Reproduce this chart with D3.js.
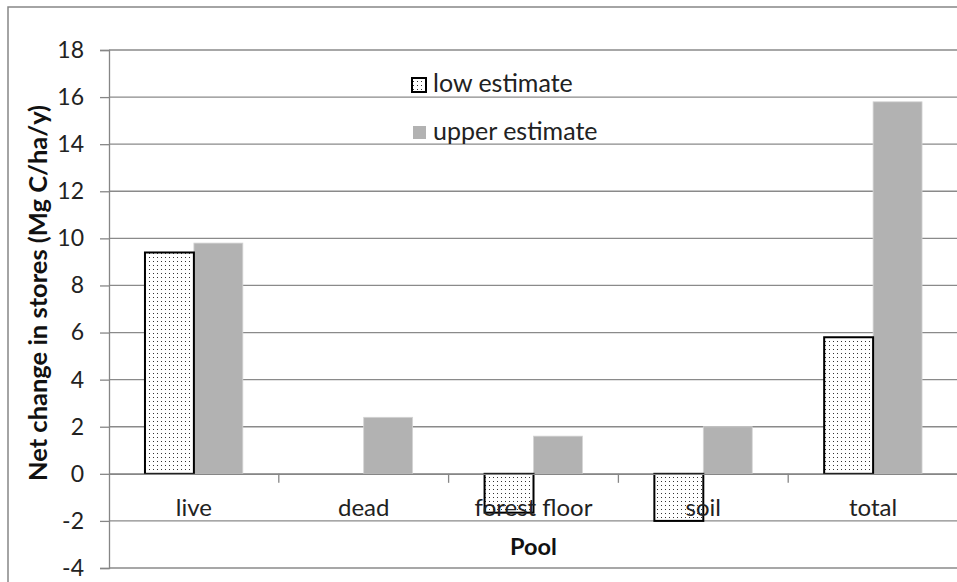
<!DOCTYPE html>
<html><head><meta charset="utf-8">
<script src="https://cdn.jsdelivr.net/npm/d3@7"></script>
<style>html,body{margin:0;padding:0;background:#fff;}svg{display:block;}</style>
</head><body>
<svg id="chart" width="957" height="582"></svg>
<script>
const categories = ["live", "dead", "forest floor", "soil", "total"];
const seriesNames = ["low estimate", "upper estimate"];
const lowEstimate = [9.4, 0, -1.65, -2.0, 5.8];
const upperEstimate = [9.8, 2.4, 1.6, 2.0, 15.8];
const yTicks = [-4, -2, 0, 2, 4, 6, 8, 10, 12, 14, 16, 18];
const yTitle = "Net change in stores (Mg C/ha/y)";
const xTitle = "Pool";

const FONT = "Lato, 'Open Sans', sans-serif";
const svg = d3.select("#chart");
const L = 109, R = 958, T = 50, B = 568;

const defs = svg.append("defs");
const pat = defs.append("pattern").attr("id","dots").attr("patternUnits","userSpaceOnUse")
  .attr("width",4).attr("height",4);
pat.append("rect").attr("width",4).attr("height",4).attr("fill","#fff");
pat.append("rect").attr("x",1).attr("y",1).attr("width",1).attr("height",1).attr("fill","#333");

// outer chart border
svg.append("rect").attr("x",8).attr("y",7).attr("width",980).attr("height",600)
  .attr("fill","none").attr("stroke","#878787").attr("stroke-width",1.5);

const y = d3.scaleLinear().domain([-4, 18]).range([B, T]);
const x = d3.scaleBand().domain(categories).range([L, R]).paddingInner(0).paddingOuter(0);
const xs = d3.scaleBand().domain(seriesNames).range([0, x.bandwidth()]).paddingInner(0).paddingOuter(0.735);

// gridlines
svg.append("g").selectAll("line").data(yTicks).join("line")
  .attr("x1",L).attr("x2",R).attr("y1",d=>y(d)).attr("y2",d=>y(d))
  .attr("stroke","#8a8a8a").attr("stroke-width",1.3);
// y axis
const yAxis = d3.axisLeft(y).tickValues(yTicks).tickSize(9).tickPadding(16).tickFormat(d=>String(d));
const gy = svg.append("g").attr("transform",`translate(${L},0)`).call(yAxis);
gy.select(".domain").attr("stroke","#868686").attr("stroke-width",1.3);
gy.selectAll(".tick line").attr("stroke","#868686").attr("stroke-width",1.3);
gy.selectAll(".tick text").attr("font-family",FONT).attr("font-size",23).attr("fill","#222");

// bars
const rows = categories.map((c,i)=>({c, vals:[lowEstimate[i], upperEstimate[i]]}));
const g = svg.append("g");
rows.forEach(r=>{
  const u = r.vals[1];
  g.append("rect").attr("x",x(r.c)+xs("upper estimate")).attr("width",xs.bandwidth())
    .attr("y",y(Math.max(0,u))).attr("height",Math.abs(y(u)-y(0)))
    .attr("fill","#b2b2b2").attr("stroke","#d4d4d4").attr("stroke-width",0.8);
  const lo = r.vals[0];
  if (lo !== 0) {
    g.append("rect").attr("x",x(r.c)+xs("low estimate")).attr("width",xs.bandwidth())
      .attr("y",y(Math.max(0,lo))).attr("height",Math.abs(y(lo)-y(0)))
      .attr("fill","url(#dots)").attr("stroke","#000").attr("stroke-width",2);
  }
});

// x axis at zero
const xAxis = d3.axisBottom(x).tickSize(0).tickFormat(()=>"");
const gx = svg.append("g").attr("transform",`translate(0,${y(0)})`).call(xAxis);
gx.select(".domain").attr("stroke","#868686").attr("stroke-width",1.3);
svg.append("g").selectAll("line").data(categories.slice(1)).join("line")
  .attr("x1",d=>x(d)).attr("x2",d=>x(d)).attr("y1",y(0)).attr("y2",y(0)+9)
  .attr("stroke","#868686").attr("stroke-width",1.3);
svg.append("g").selectAll("text").data(categories).join("text")
  .attr("x",d=>x(d)+x.bandwidth()/2).attr("y",516).attr("text-anchor","middle")
  .attr("font-family",FONT).attr("font-size",24).attr("fill","#222").text(d=>d);

// titles
svg.append("text").attr("x",(L+R)/2).attr("y",555).attr("text-anchor","middle")
  .attr("font-family",FONT).attr("font-weight","bold").attr("font-size",23.5).attr("fill","#111").text(xTitle);
svg.append("text").attr("transform","translate(47,293) rotate(-90)").attr("text-anchor","middle")
  .attr("font-family",FONT).attr("font-weight","bold").attr("font-size",25.5).attr("fill","#111").text(yTitle);

// legend
const lg = svg.append("g");
lg.append("rect").attr("x",412).attr("y",78).attr("width",14).attr("height",14)
  .attr("fill","url(#dots)").attr("stroke","#000").attr("stroke-width",2);
lg.append("text").attr("x",433).attr("y",92).attr("font-family",FONT).attr("font-size",25).attr("fill","#222").text(seriesNames[0]);
lg.append("rect").attr("x",413).attr("y",126).attr("width",13).attr("height",13).attr("fill","#b2b2b2");
lg.append("text").attr("x",433).attr("y",140).attr("font-family",FONT).attr("font-size",25).attr("fill","#222").text(seriesNames[1]);
</script>
</body></html>
